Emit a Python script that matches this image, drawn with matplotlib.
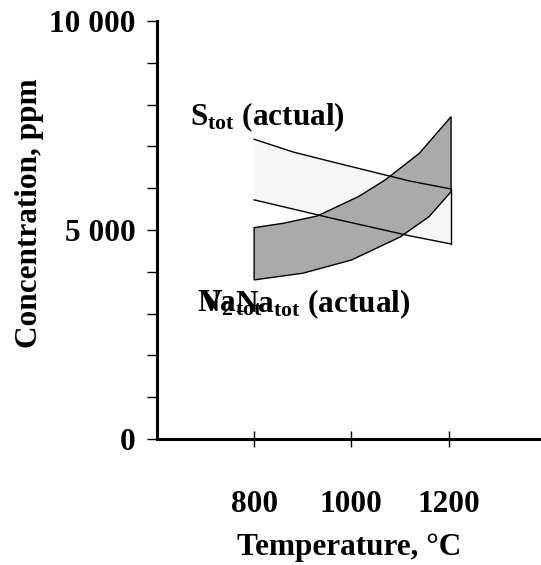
import numpy as np
import matplotlib
matplotlib.use('Agg')
import matplotlib.pyplot as plt
from matplotlib.ticker import MultipleLocator, FuncFormatter

plt.rcParams['font.family'] = 'Liberation Serif'
plt.rcParams['font.weight'] = 'bold'
plt.rcParams['mathtext.fontset'] = 'custom'
plt.rcParams['mathtext.rm'] = 'Liberation Serif:bold'
plt.rcParams['mathtext.it'] = 'Liberation Serif:bold'
plt.rcParams['mathtext.bf'] = 'Liberation Serif:bold'

FS = 22.5

# S_tot band (light)
s_temp = [800, 880, 960, 1040, 1120, 1205]
s_upper = [7170, 6865, 6630, 6400, 6170, 5980]
s_lower = [5720, 5500, 5280, 5070, 4860, 4665]

# Na_tot band (grey)
na_temp_up = [800, 860, 930, 1015, 1070, 1140, 1205]
na_upper = [5055, 5160, 5335, 5800, 6200, 6835, 7710]
na_temp_lo = [800, 900, 1000, 1100, 1160, 1205]
na_lower = [3805, 3965, 4280, 4830, 5320, 5915]

fig = plt.figure(figsize=(5.41, 5.65), dpi=100)
ax = fig.add_axes([0.290, 0.223, 0.710, 0.740])

ax.fill_between(s_temp, s_lower, s_upper, color='#f6f6f6', lw=0)
ax.plot(s_temp, s_upper, color='black', lw=1)
ax.plot(s_temp, s_lower, color='black', lw=1)
ax.plot([s_temp[-1], s_temp[-1]], [s_lower[-1], s_upper[-1]], color='black', lw=1)

xs = np.concatenate([na_temp_up, na_temp_lo[::-1]])
ys = np.concatenate([na_upper, na_lower[::-1]])
ax.fill(xs, ys, facecolor='#aaaaaa', edgecolor='black', lw=1)

ax.text(668, 7500, r'S$_{tot}$ (actual)', fontsize=FS, fontweight='bold', va='baseline')
ax.text(682, 3040, r'Na$_{tot}$', fontsize=FS, fontweight='bold', va='baseline')
ax.text(686, 3040, r'V$_{2}$', fontsize=FS, fontweight='bold', va='baseline')
ax.text(760, 3040, r'Na$_{tot}$ (actual)', fontsize=FS, fontweight='bold', va='baseline')

ax.set_xlim(600, 1390)
ax.set_ylim(0, 10000)
ax.set_xticks([800, 1000, 1200])
ax.set_yticks([0, 5000, 10000])
ax.yaxis.set_minor_locator(MultipleLocator(1000))
ax.yaxis.set_major_formatter(FuncFormatter(lambda v, p: '{:,}'.format(int(v)).replace(',', ' ')))

for side in ['top', 'right']:
    ax.spines[side].set_visible(False)
for side in ['left', 'bottom']:
    ax.spines[side].set_linewidth(2.2)

ax.tick_params(axis='y', which='both', direction='out', length=7.5, width=1, pad=8, labelsize=FS)
ax.tick_params(axis='x', which='major', direction='inout', length=11, width=1, pad=31, labelsize=FS)
for lab in ax.get_xticklabels() + ax.get_yticklabels():
    lab.set_fontweight('bold')

ax.set_xlabel('Temperature, °C', fontsize=FS, fontweight='bold', labelpad=10)
ax.set_ylabel('Concentration, ppm', fontsize=FS, fontweight='bold')
ax.yaxis.set_label_coords(-0.295, 0.54)

fig.savefig('out.png', dpi=100)
